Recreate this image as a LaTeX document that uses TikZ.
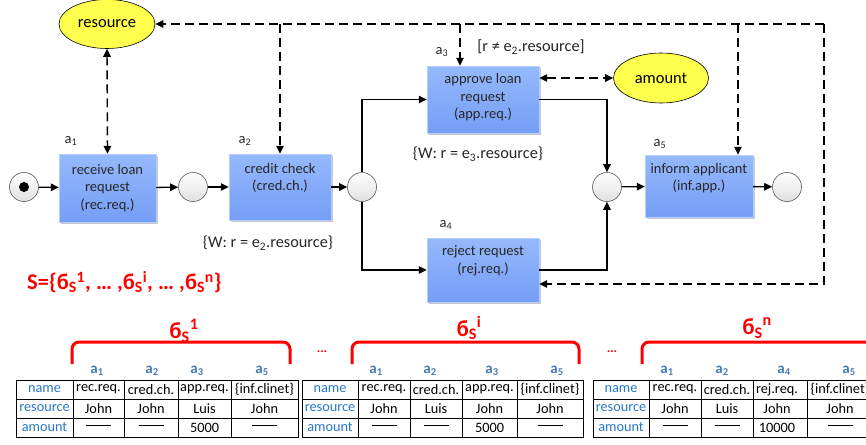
\documentclass[tikz,border=0pt]{standalone}
\usepackage{fontspec}
\setmainfont{Carlito}
\usetikzlibrary{arrows.meta,shadows,calc,shapes.geometric}
\definecolor{boxtop}{RGB}{150,185,252}
\definecolor{boxbot}{RGB}{116,158,246}
\definecolor{ellfill}{RGB}{255,255,77}
\definecolor{hdrblue}{RGB}{70,122,182}
\definecolor{rowblue}{RGB}{40,120,200}
\definecolor{myred}{RGB}{255,0,0}
\newcommand{\nodash}{\rule[4.5pt]{25pt}{0.7pt}}
\begin{document}
\begin{tikzpicture}[x=1pt,y=-1pt,font=\fontsize{14.5}{17.5}\selectfont,
  act/.style={rectangle, inner sep=0pt, top color=boxtop, bottom color=boxbot, draw=boxtop!70!white, line width=0.4pt,
    drop shadow={shadow xshift=2pt,shadow yshift=-2pt,fill=black!22,opacity=1}},
  acttext/.style={align=center, inner sep=0pt, text=black!85},
  place/.style={circle, minimum size=29pt, inner sep=0pt, draw=black!65, line width=0.6pt, top color=white, bottom color=black!12},
  datum/.style={ellipse, fill=ellfill, draw=black, line width=0.6pt, minimum width=96pt, minimum height=49pt, inner sep=0pt, font=\fontsize{16.5}{18}\selectfont},
  tip/.style={-{Triangle[length=8pt,width=7.5pt]}},
  flow/.style={line width=1.3pt, tip},
  dep/.style={line width=1.4pt, dash pattern=on 9pt off 5pt, tip},
  depb/.style={line width=1.4pt, dash pattern=on 9pt off 5pt, {Triangle[length=8pt,width=7.5pt]}-{Triangle[length=8pt,width=7.5pt]}},
  lbl/.style={inner sep=0pt, text=black!85},
  note/.style={inner sep=0pt, text=black!85, font=\fontsize{16.3}{18}\selectfont},
  tabline/.style={line width=0.9pt, black},
  cell/.style={inner sep=0pt, font=\fontsize{14.3}{16}\selectfont},
  rowhd/.style={inner sep=0pt, font=\fontsize{14.3}{16}\selectfont, text=rowblue},
  colhd/.style={inner sep=0pt, font=\bfseries\fontsize{15}{16}\selectfont, text=hdrblue},
  brace/.style={line width=3pt, myred, rounded corners=7pt},
  siglbl/.style={inner sep=0pt, text=myred, font=\bfseries\fontsize{23}{26}\selectfont},
  dots/.style={inner sep=0pt, text=myred, font=\bfseries\fontsize{13}{14}\selectfont}
]
\path[use as bounding box] (0,0) rectangle (866,444);

% ---------- process ----------
\node[datum] (res) at (107,24) {resource};
\node[datum, minimum width=95pt, minimum height=50pt] (amt) at (661,78) {amount};

\node[place] (start) at (24,187) {};
\fill[black] (start.center) circle (5pt);
\node[act, minimum width=97pt, minimum height=68pt] (a1) at (107.5,188) {};
\node[acttext] (a1t) at (a1.center) {receive loan\\request\\(rec.req.)};
\node[place] (p1) at (193,187) {};
\node[act, minimum width=102pt, minimum height=66pt] (a2) at (280,187) {};
\node[acttext] (a2t) at ([yshift=9pt]a2.center) {credit check\\(cred.ch.)};
\node[place] (p2) at (362,187) {};
\node[act, minimum width=112pt, minimum height=67pt] (a3) at (483,99.5) {};
\node[acttext] (a3t) at ([yshift=2pt]a3.center) {approve loan\\request\\(app.req.)};
\node[act, minimum width=112pt, minimum height=64pt] (a4) at (483,270) {};
\node[acttext] (a4t) at ([yshift=9pt]a4.center) {reject request\\(rej.req.)};
\node[place] (p3) at (607,187) {};
\node[act, minimum width=108pt, minimum height=62pt] (a5) at (699,186) {};
\node[acttext] (a5t) at ([yshift=8pt]a5.center) {inform applicant\\(inf.app.)};
\node[place] (stop) at (787,187) {};

\node[lbl] (la1) at (71,141) {a\textsubscript{1}};
\node[lbl] (la2) at (245,141) {a\textsubscript{2}};
\node[lbl] (la3) at (442,52) {a\textsubscript{3}};
\node[lbl] (la4) at (446,225) {a\textsubscript{4}};
\node[lbl] (la5) at (660,144) {a\textsubscript{5}};

\node[note] (g3) at (531,47) {[r ≠ e\textsubscript{2}.resource]};
\node[note] (w3) at (478,154) {\{W: r = e\textsubscript{3}.resource\}};
\node[note] (w2) at (268,243) {\{W: r = e\textsubscript{2}.resource\}};

\draw[flow] (start) -- (a1);
\draw[flow] (a1) -- (p1);
\draw[flow] (p1) -- (a2);
\draw[flow] (a2) -- (p2);
\draw[flow] (p2.north) |- (a3.west);
\draw[flow] (p2.south) |- (a4.west);
\draw[flow] (a3.east) -| (p3.north);
\draw[flow] (a4.east) -| (p3.south);
\draw[flow] (p3) -- (a5);
\draw[flow] (a5) -- (stop);

\coordinate (TR) at (824,24);
\coordinate (BR) at (824,284);
\coordinate (a3in) at ($(a3.north)+(-23,0)$);
\coordinate (a5in) at ($(a5.north)+(39,0)$);
\draw[dep] (TR) -- (res.east);
\draw[dep] (a2.north |- TR) -- (a2.north);
\draw[dep] (a3in |- TR) -- (a3in);
\draw[dep] (a5in |- TR) -- (a5in);
\draw[dep] (TR) -- (BR) -- (a4.east |- BR);
\draw[depb] (res.south) -- (a1.north);
\draw[depb] (a3.east |- amt.west) -- (amt.west);

\node[anchor=west, inner sep=0pt, text=myred, font=\bfseries\fontsize{22.5}{25}\selectfont] (Sset) at (27,282)
  {S=\{б\textsubscript{S}\textsuperscript{1}, … ,б\textsubscript{S}\textsuperscript{i}, … ,б\textsubscript{S}\textsuperscript{n}\}};

% ---------- tables ----------
% table 1
\draw[tabline] (16,380) rectangle (298,437);
\draw[tabline] (16,399) -- (298,399) (16,418) -- (298,418);
\foreach \cx in {73,124,178,231} \draw[tabline] (\cx,380) -- (\cx,437);
% table 2
\draw[tabline] (302,380) rectangle (583,437);
\draw[tabline] (302,399) -- (583,399) (302,418) -- (583,418);
\foreach \cx in {358,410,462,517} \draw[tabline] (\cx,380) -- (\cx,437);
% table 3
\draw[tabline] (593,380) rectangle (873,437);
\draw[tabline] (593,399) -- (873,399) (593,418) -- (873,418);
\foreach \cx in {649,701,753,807} \draw[tabline] (\cx,380) -- (\cx,437);

\foreach \hx/\t in {44.5/1,330/2,621/3}{
  \node[rowhd] (t\t name) at (\hx,389.5) {name};
  \node[rowhd] (t\t res) at (\hx,408.5) {resource};
  \node[rowhd] (t\t amt) at (\hx,427.5) {amount};
}
% table 1 cells
\foreach \x/\s [count=\i] in {98.5/rec.req., 151/cred.ch., 204.5/app.req., 264.5/\{inf.clinet\}}
  \node[cell] (t1n\i) at (\x,389.5) {\s};
\foreach \x/\s [count=\i] in {98.5/John, 151/John, 204.5/Luis, 264.5/John}
  \node[cell] (t1r\i) at (\x,408.5) {\s};
\foreach \x/\s [count=\i] in {98.5/\nodash, 151/\nodash, 204.5/5000, 264.5/\nodash}
  \node[cell] (t1a\i) at (\x,427.5) {\s};
\foreach \x/\s [count=\i] in {97/1, 152/2, 197/3, 262/5}
  \node[colhd] (t1h\i) at (\x,371) {a\textsubscript{\s}};
% table 2 cells
\foreach \x/\s [count=\i] in {384/rec.req., 436/cred.ch., 489.5/app.req., 550/\{inf.clinet\}}
  \node[cell] (t2n\i) at (\x,389.5) {\s};
\foreach \x/\s [count=\i] in {384/John, 436/Luis, 489.5/John, 550/John}
  \node[cell] (t2r\i) at (\x,408.5) {\s};
\foreach \x/\s [count=\i] in {384/\nodash, 436/\nodash, 489.5/5000, 550/\nodash}
  \node[cell] (t2a\i) at (\x,427.5) {\s};
\foreach \x/\s [count=\i] in {376/1, 430/2, 492/3, 557/5}
  \node[colhd] (t2h\i) at (\x,371) {a\textsubscript{\s}};
% table 3 cells
\foreach \x/\s [count=\i] in {675/rec.req., 727/cred.ch., 777/rej.req., 840/\{inf.clinet\}}
  \node[cell] (t3n\i) at (\x,389.5) {\s};
\foreach \x/\s [count=\i] in {675/John, 727/Luis, 777/John, 840/John}
  \node[cell] (t3r\i) at (\x,408.5) {\s};
\foreach \x/\s [count=\i] in {675/\nodash, 727/\nodash, 777/10000, 840/\nodash}
  \node[cell] (t3a\i) at (\x,427.5) {\s};
\foreach \x/\s [count=\i] in {667/1, 722/2, 784/4, 849/5}
  \node[colhd] (t3h\i) at (\x,371) {a\textsubscript{\s}};

% braces and labels
\draw[brace] (72,364) -- (72,342) -- (290,342) -- (290,364);
\draw[brace] (352,364) -- (352,342) -- (579,342) -- (579,364);
\draw[brace] (642,364) -- (642,342) -- (872,342) -- (872,364);
\node[siglbl] (sig1) at (184,331) {б\textsubscript{S}\textsuperscript{1}};
\node[siglbl] (sigi) at (469,328) {б\textsubscript{S}\textsuperscript{i}};
\node[siglbl] (sign) at (757,328) {б\textsubscript{S}\textsuperscript{n}};
\node[dots] (d1) at (322,352) {...};
\node[dots] (d2) at (612,352) {...};
\end{tikzpicture}
\end{document}
